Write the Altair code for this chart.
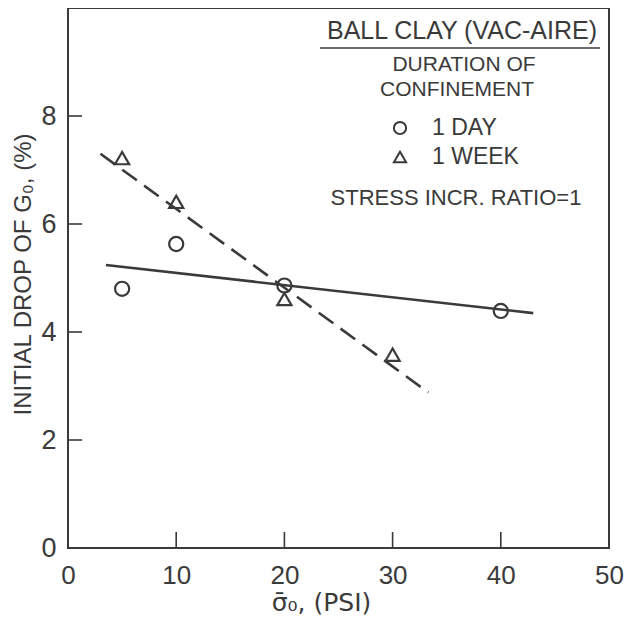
import altair as alt
import pandas as pd

# ---- data ----
series = ["1 DAY", "1 WEEK"]
x_day = [5, 10, 20, 40]
y_day = [4.80, 5.63, 4.86, 4.39]
x_week = [5, 10, 20, 30]
y_week = [7.22, 6.41, 4.61, 3.58]
fit_day_x = [3.5, 43.0]
fit_day_y = [5.24, 4.35]
fit_week_x = [3.0, 33.3]
fit_week_y = [7.30, 2.88]
x_tick_labels = [0, 10, 20, 30, 40, 50]
y_tick_labels = [0, 2, 4, 6, 8]
x_inner_ticks = [10, 20, 30, 40]
y_inner_ticks = [2, 4, 6, 8]
box_title = "BALL CLAY (VAC-AIRE)"
legend_title = ["DURATION OF", "CONFINEMENT"]
note = "STRESS INCR. RATIO=1"

FONT = "Liberation Sans"
INK = "#3a3a3a"

pts = pd.DataFrame({
    "x": x_day + x_week,
    "y": y_day + y_week,
    "s": [series[0]] * len(x_day) + [series[1]] * len(x_week),
})
fit_day = pd.DataFrame({"x": fit_day_x, "y": fit_day_y})
fit_week = pd.DataFrame({"x": fit_week_x, "y": fit_week_y})

xs = alt.Scale(domain=[0, 50], nice=False, zero=False)
ys = alt.Scale(domain=[0, 10], nice=False, zero=False)
shape_scale = alt.Scale(domain=series, range=["circle", "triangle-up"])

base_x = alt.X("x:Q", scale=xs, axis=alt.Axis(
    values=x_tick_labels, ticks=False, domain=False, grid=False, labelFlush=False,
    labelFontSize=26, labelPadding=14, labelColor=INK, labelFont=FONT,
    title="σ̄₀, (PSI)", titleFont="DejaVu Sans", titleFontSize=25, titleFontWeight="normal",
    titleColor=INK, titleX=253, titleY=54, titleBaseline="middle"))
base_y = alt.Y("y:Q", scale=ys, axis=alt.Axis(
    values=y_tick_labels, ticks=False, domain=False, grid=False, labelFlush=False,
    labelFontSize=27, labelPadding=12, labelColor=INK, labelFont=FONT,
    title="INITIAL DROP OF G₀, (%)", titleFont=FONT, titleFontSize=24,
    titleFontWeight="normal", titleColor=INK, titleAngle=270,
    titleX=-45, titleY=266, titleAlign="center", titleBaseline="middle"))

points = alt.Chart(pts).mark_point(filled=False, size=200, strokeWidth=2.2, color=INK, opacity=1).encode(
    x=base_x, y=base_y,
    shape=alt.Shape("s:N", scale=shape_scale, legend=None),
)

line_day = alt.Chart(fit_day).mark_line(color=INK, strokeWidth=2.6).encode(
    x=alt.X("x:Q", scale=xs), y=alt.Y("y:Q", scale=ys))
line_week = alt.Chart(fit_week).mark_line(color=INK, strokeWidth=2.6, strokeDash=[18, 9]).encode(
    x=alt.X("x:Q", scale=xs), y=alt.Y("y:Q", scale=ys))

xt = alt.Chart(pd.DataFrame({"t": x_inner_ticks})).mark_rule(color=INK, strokeWidth=1.6).encode(
    x=alt.X("t:Q", scale=xs), y=alt.value(540), y2=alt.value(524))
yt = alt.Chart(pd.DataFrame({"t": y_inner_ticks})).mark_rule(color=INK, strokeWidth=1.6).encode(
    y=alt.Y("t:Q", scale=ys), x=alt.value(0), x2=alt.value(14))


def label(txt, px, py, size, align="center"):
    return alt.Chart(pd.DataFrame({"t": [txt]})).mark_text(
        font=FONT, fontSize=size, color=INK, align=align, baseline="middle"
    ).encode(x=alt.value(px), y=alt.value(py), text="t:N")


ann = [
    label(box_title, 394, 23, 25),
    label(legend_title[0], 396, 57, 21),
    label(legend_title[1], 389, 82, 21),
    label(note, 388, 190, 22),
]
underline = alt.Chart(pd.DataFrame({"a": [0]})).mark_rule(color=INK, strokeWidth=1.6).encode(
    x=alt.value(252), x2=alt.value(532), y=alt.value(40))

leg = pd.DataFrame({"s": series, "py": [120, 149]})
leg_sym = alt.Chart(leg).mark_point(filled=False, size=150, strokeWidth=2, color=INK, opacity=1).encode(
    x=alt.value(332), y=alt.Y("py:Q", scale=None),
    shape=alt.Shape("s:N", scale=shape_scale, legend=None))
leg_txt = alt.Chart(leg).mark_text(font=FONT, fontSize=23, color=INK, align="left", baseline="middle").encode(
    x=alt.value(364), y=alt.Y("py:Q", scale=None), text="s:N")

chart = alt.layer(
    line_day, line_week, points, xt, yt, *ann, underline, leg_sym, leg_txt
).properties(
    width=541, height=540,
    autosize=alt.AutoSizeParams(type="none"),
    padding={"left": 60, "top": 0, "right": 15, "bottom": 67},
    background="white",
).configure_view(stroke=INK, strokeWidth=2)

chart.save("out.html", embed_options={"renderer": "svg", "actions": False})
